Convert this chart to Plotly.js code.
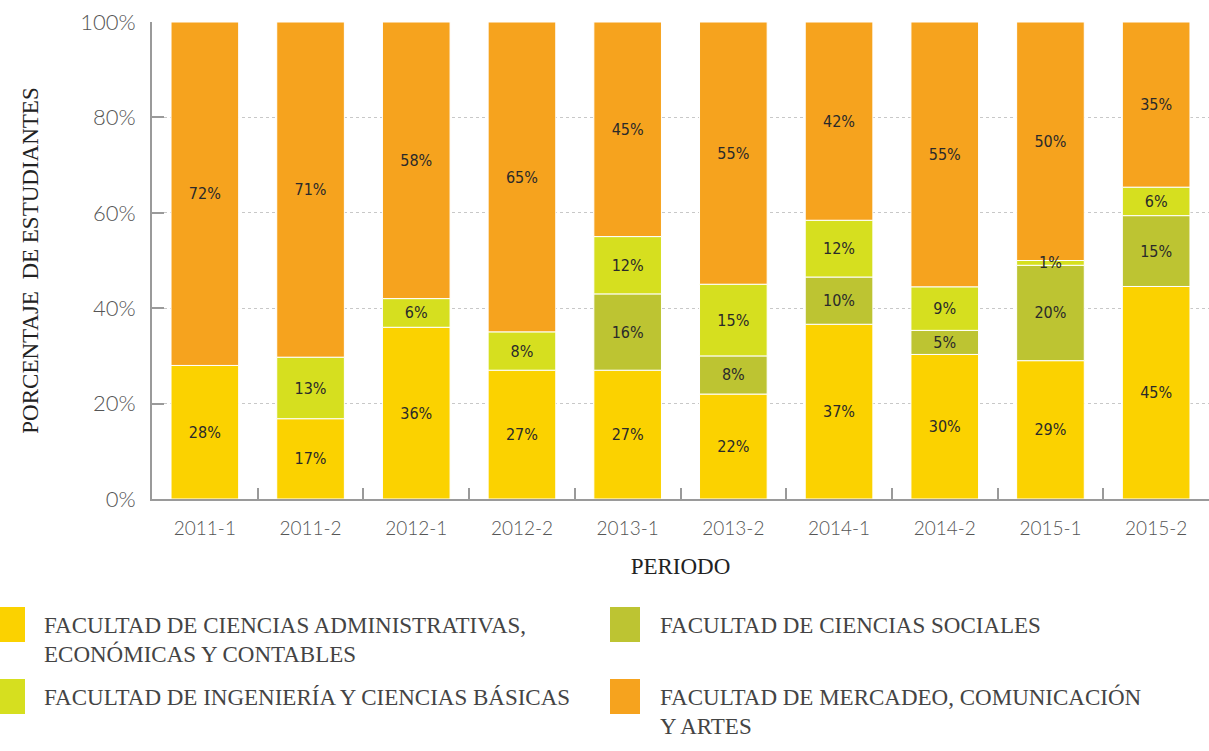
<!DOCTYPE html>
<html><head><meta charset="utf-8">
<script src="https://cdn.plot.ly/plotly-3.0.1.min.js"></script>
<style>body{margin:0;background:#fff}#chart{width:1209px;height:751px}</style>
</head><body><div id="chart"></div>
<script>
const periods = ['2011-1','2011-2','2012-1','2012-2','2013-1','2013-2','2014-1','2014-2','2015-1','2015-2'];
const administrativas = [28,17,36,27,27,22,37,30,29,45];
const sociales = [0,0,0,0,16,8,10,5,20,15];
const ingenieria = [0,13,6,8,12,15,12,9,1,6];
const mercadeo = [72,71,58,65,45,55,42,55,50,35];
const yTickVals = [0,20,40,60,80,100];
const yTickText = ['0%','20%','40%','60%','80%','100%'];

const legendLines = [
  {col:0,row:0,lines:['FACULTAD DE CIENCIAS ADMINISTRATIVAS,','ECONÓMICAS Y CONTABLES'],color:'#FBD200'},
  {col:0,row:1,lines:['FACULTAD DE INGENIERÍA Y CIENCIAS BÁSICAS'],color:'#D6DF1F'},
  {col:1,row:0,lines:['FACULTAD DE CIENCIAS SOCIALES'],color:'#BDC432'},
  {col:1,row:1,lines:['FACULTAD DE MERCADEO, COMUNICACIÓN','Y ARTES'],color:'#F6A31E'}
];

const W=1209,H=751,L=152,R=0,T=22,B=252;
const pw=W-L-R, ph=H-T-B;
const px=x=>(x-L)/pw, py=y=>(H-B-y)/ph;

// stack order bottom->top, normalized to 100 per period
const stack=[administrativas, sociales, ingenieria, mercadeo];
const totals=periods.map((_,i)=>stack.reduce((s,a)=>s+a[i],0));
const norm=a=>a.map((v,i)=>v*100/totals[i]);
const baseOf=k=>periods.map((_,i)=>{let s=0;for(let j=0;j<k;j++) s+=stack[j][i]*100/totals[i];return s;});

function mk(name, k, color){
  const vals=stack[k];
  return {type:'bar', name:name, x:periods, y:norm(vals).map((v,i)=>vals[i]===0?null:v), base:baseOf(k),
    text:vals.map(v=>v===0?'':v+'%'), textposition:'inside', insidetextanchor:'middle',
    textangle:0, constraintext:'none',
    textfont:{family:'DejaVu Sans Condensed, Liberation Sans Narrow, sans-serif', size:16, color:'#2a2a2a'},
    marker:{color:color, line:{color:'#ffffff', width:1}}, hoverinfo:'skip'};
}
// drawing order: the lime segment drawn last so its small labels stay visible
const data=[
  mk('Administrativas', 0, '#FBD200'),
  mk('Sociales', 1, '#BDC432'),
  mk('Mercadeo', 3, '#F6A31E'),
  mk('Ingeniería', 2, '#D6DF1F')
];

const shapes=[], annotations=[];
const colX=[{sq:-5,tx:42},{sq:610,tx:658}];
const rowY=[607,679];
legendLines.forEach(it=>{
  const sx=colX[it.col].sq, sy=rowY[it.row];
  shapes.push({type:'rect', xref:'paper', yref:'paper', x0:px(sx), x1:px(sx+30), y0:py(sy), y1:py(sy+35),
    fillcolor:it.color, line:{width:0}});
  it.lines.forEach((t,i)=>{
    annotations.push({xref:'paper', yref:'paper', x:px(colX[it.col].tx), y:py(sy+18+i*29),
      xanchor:'left', yanchor:'middle', showarrow:false, text:t,
      font:{family:'Liberation Serif, serif', size:23, color:'#444'}});
  });
});

const layout={
  width:W, height:H, margin:{l:L,r:R,t:T,b:B},
  paper_bgcolor:'#fff', plot_bgcolor:'#fff',
  barmode:'overlay', bargap:0.36, showlegend:false,
  uniformtext:{mode:'show', minsize:16},
  xaxis:{type:'category', tickson:'boundaries', ticks:'inside', ticklen:11, tickcolor:'#9a9a9a', tickwidth:2,
    showline:true, linecolor:'#9a9a9a', linewidth:2, showgrid:false, ticklabelstandoff:11,
    tickfont:{family:'Lato, sans-serif', size:19, color:'#555', weight:300},
    title:{text:'PERIODO', standoff:20, font:{family:'Liberation Serif, serif', size:23, color:'#222'}}},
  yaxis:{range:[0,100], tickvals:yTickVals, ticktext:yTickText, ticks:'inside', ticklen:12, tickcolor:'#9a9a9a', tickwidth:2,
    showline:true, linecolor:'#9a9a9a', linewidth:2, showgrid:true, gridcolor:'#c8c8c8', griddash:'dot', gridwidth:1,
    zeroline:false, ticklabelstandoff:10,
    tickfont:{family:'Lato, sans-serif', size:22, color:'#555', weight:300},
    title:{text:'PORCENTAJE&nbsp;&nbsp;DE ESTUDIANTES', standoff:35, font:{family:'Liberation Serif, serif', size:23, color:'#222'}}},
  shapes:shapes, annotations:annotations
};
Plotly.newPlot('chart', data, layout, {staticPlot:true});
</script></body></html>
